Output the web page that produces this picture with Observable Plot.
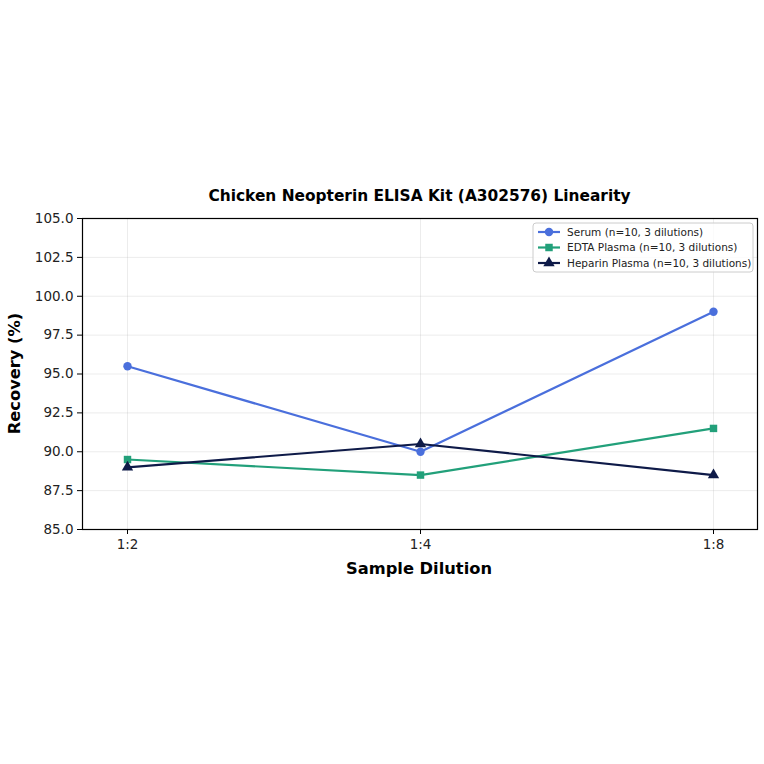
<!DOCTYPE html>
<html>
<head>
<meta charset="utf-8">
<script src="https://cdn.jsdelivr.net/npm/d3@7"></script>
<script src="https://cdn.jsdelivr.net/npm/@observablehq/plot@0.6"></script>
<style>
body { margin: 0; background: #fff; }
svg { font-family: "DejaVu Sans", sans-serif; }
</style>
</head>
<body>
<div id="chart"></div>
<script>
const dilutions = ["1:2", "1:4", "1:8"];
const seriesNames = ["Serum (n=10, 3 dilutions)", "EDTA Plasma (n=10, 3 dilutions)", "Heparin Plasma (n=10, 3 dilutions)"];
const serum = [95.5, 90.0, 99.0];
const edta = [89.5, 88.5, 91.5];
const heparin = [89.0, 90.5, 88.5];
const colors = ["#4a6fdc", "#22a07a", "#0e1a48"];
const symbols = ["circle", "square", "triangle"];
const yTicks = [85, 87.5, 90, 92.5, 95, 97.5, 100, 102.5, 105];
const title = "Chicken Neopterin ELISA Kit (A302576) Linearity";
const xLabel = "Sample Dilution";
const yLabel = "Recovery (%)";

const allValues = [serum, edta, heparin];
const data = [];
allValues.forEach((vals, si) => vals.forEach((v, i) => data.push({series: seriesNames[si], dilution: dilutions[i], value: v})));

const W = 764, H = 764;
const mL = 82, mR = 7, mT = 218, mB = 235;

const plot = Plot.plot({
  width: W, height: H,
  marginLeft: mL, marginRight: mR, marginTop: mT, marginBottom: mB,
  style: {fontFamily: "DejaVu Sans, sans-serif", color: "#000", background: "#fff"},
  x: {type: "point", domain: dilutions, padding: 0.15, label: null, tickSize: 5, tickPadding: 5},
  y: {domain: [85, 105], ticks: yTicks, tickFormat: d => d.toFixed(1), label: null, tickSize: 5, tickPadding: 4},
  color: {domain: seriesNames, range: colors},
  symbol: {domain: seriesNames, range: symbols},
  marks: [
    Plot.gridX(dilutions, {stroke: "#b0b0b0", strokeOpacity: 0.3, strokeWidth: 0.8}),
    Plot.gridY(yTicks, {stroke: "#b0b0b0", strokeOpacity: 0.3, strokeWidth: 0.8}),
    Plot.line(data, {x: "dilution", y: "value", z: "series", stroke: "series", strokeWidth: 2.2}),
    Plot.dot(data, {x: "dilution", y: "value", fill: "series", symbol: "series", r: 4.2, stroke: "none"}),
    Plot.frame({stroke: "#000", strokeWidth: 1.2, strokeOpacity: 1})
  ]
});
document.getElementById("chart").appendChild(plot);

const svg = d3.select(plot);
svg.selectAll("g[aria-label='x-axis tick label'] text, g[aria-label='y-axis tick label'] text")
  .attr("fill", "#222").attr("font-size", 13.5);
svg.selectAll("g[aria-label='x-axis tick label'], g[aria-label='y-axis tick label']").attr("font-size", 13.5);

svg.append("text").attr("x", (mL + W - mR) / 2 + 0).attr("y", 201)
  .attr("text-anchor", "middle").attr("font-size", 15.4).attr("font-weight", "bold").attr("fill", "#000").text(title);
svg.append("text").attr("x", 419).attr("y", 574)
  .attr("text-anchor", "middle").attr("font-size", 16.3).attr("font-weight", "bold").attr("fill", "#000").text(xLabel);
svg.append("text").attr("transform", `translate(20,${(mT + H - mB) / 2}) rotate(-90)`)
  .attr("text-anchor", "middle").attr("font-size", 16.3).attr("font-weight", "bold").attr("fill", "#000").text(yLabel);

// legend
const lx = 533, ly = 223, lw = 220, lh = 49;
const lg = svg.append("g").attr("text-anchor", "start");
lg.append("rect").attr("x", lx).attr("y", ly).attr("width", lw).attr("height", lh).attr("rx", 3)
  .attr("fill", "#fff").attr("fill-opacity", 0.8).attr("stroke", "#ccc");
seriesNames.forEach((name, i) => {
  const cy = ly + 9 + i * 15.5;
  lg.append("line").attr("x1", lx + 5).attr("x2", lx + 27).attr("y1", cy).attr("y2", cy)
    .attr("stroke", colors[i]).attr("stroke-width", 2.2);
  const sym = [d3.symbolCircle, d3.symbolSquare, d3.symbolTriangle][i];
  lg.append("path").attr("d", d3.symbol(sym, 56)()).attr("transform", `translate(${lx + 16},${cy})`).attr("fill", colors[i]);
  lg.append("text").attr("x", lx + 34).attr("y", cy + 3.8).attr("font-size", 10.5).attr("fill", "#222")
    .attr("text-anchor", "start").text(name);
});
</script>
</body>
</html>
